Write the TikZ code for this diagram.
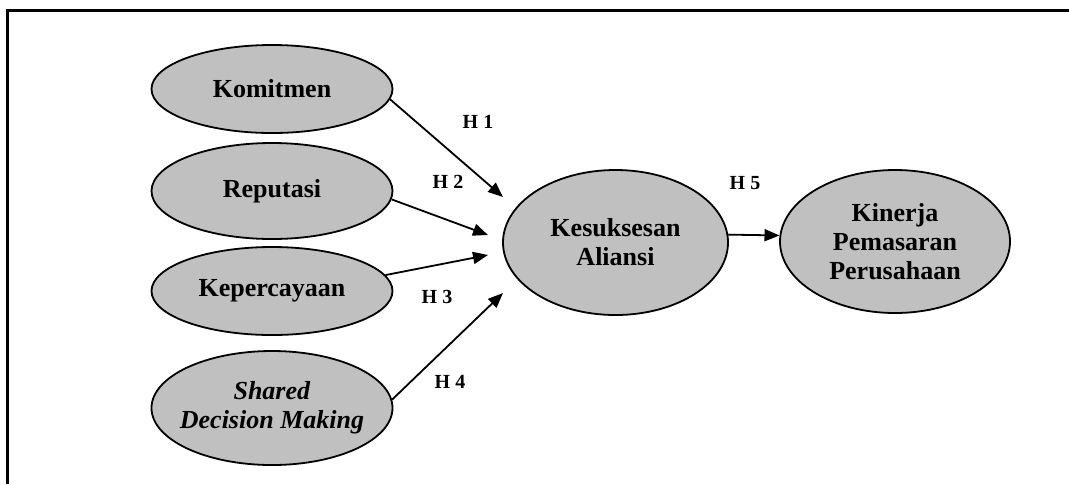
\documentclass[tikz,border=0pt]{standalone}
\usepackage{fontspec}
\setmainfont{Liberation Serif}
\usepackage{xcolor}
\usetikzlibrary{shapes.geometric, arrows.meta}
\definecolor{silver}{RGB}{192,192,192}

\begin{document}
\begin{tikzpicture}[
  x=0.5pt, y=-0.5pt,
  latent/.style={draw, ellipse, fill=silver, line width=0.9pt,
    minimum width=120.5pt, minimum height=44pt, inner sep=0pt,
    align=center, font=\fontsize{13}{14.5}\selectfont\bfseries},
  arrow/.style={-{Triangle[length=7.5pt, width=6pt]}, line width=0.9pt},
  hyp/.style={font=\fontsize{10}{12}\selectfont\bfseries, inner sep=0pt}
]
\useasboundingbox (0,0) rectangle (1069,484);

% frame
\draw[line width=1.5pt] (7,484) -- (7,10) -- (1069,10);

% constructs
\node[latent] (komitmen) at (272,89) {Komitmen};
\node[latent, minimum height=48pt] (reputasi) at (272,191) {Reputasi};
\node[latent] (kepercayaan) at (272,291) {Kepercayaan};
\node[latent, minimum height=57pt, inner xsep=-10pt] (shared) at (272,408)
  {\textit{Shared}\\\textit{Decision Making}};
\node[latent, minimum width=112.5pt, minimum height=72.5pt] (sukses) at (615.5,242.5)
  {Kesuksesan\\Aliansi};
\node[latent, minimum width=115pt, minimum height=71.5pt] (kinerja) at (895,241.5)
  {Kinerja\\Pemasaran\\Perusahaan};

% hypotheses
\coordinate (t1) at (503,197);
\coordinate (t2) at (488,235);
\coordinate (t3) at (488,255);
\coordinate (t4) at (503,293);

\draw[arrow] (komitmen.-5) -- (t1);
\draw[arrow] (reputasi.-4) -- (t2);
\draw[arrow] (kepercayaan.8) -- (t3);
\draw[arrow] (shared.4) -- (t4);
\draw[arrow] (sukses.4) -- (kinerja.177);

\node[hyp] (h1) at (478,122) {H 1};
\node[hyp] (h2) at (448,182) {H 2};
\node[hyp] (h3) at (437,297) {H 3};
\node[hyp] (h4) at (450,382) {H 4};
\node[hyp] (h5) at (745,183) {H 5};

\end{tikzpicture}
\end{document}
